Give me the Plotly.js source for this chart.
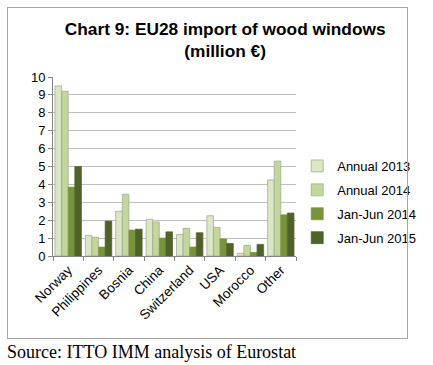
<!DOCTYPE html>
<html>
<head>
<meta charset="utf-8">
<script src="https://cdn.plot.ly/plotly-3.0.1.min.js"></script>
<style>
html,body{margin:0;padding:0;background:#fff;}
#wrap{position:relative;width:433px;height:365px;}
#chart{position:absolute;left:0;top:0;width:433px;height:365px;z-index:1;}
#frame{position:absolute;left:7px;top:7px;width:399px;height:330px;border:1.5px solid #a6a6a6;pointer-events:none;z-index:10;}
</style>
</head>
<body>
<div id="wrap"><div id="chart"></div><div id="frame"></div></div>
<script>
const categories = ["Norway","Philippines","Bosnia","China","Switzerland","USA","Morocco","Other"];
const annual2013 = [9.5, 1.15, 2.5, 2.05, 1.2, 2.25, 0.15, 4.25];
const annual2014 = [9.2, 1.05, 3.45, 1.9, 1.55, 1.6, 0.6, 5.3];
const janJun2014 = [3.85, 0.5, 1.45, 1.0, 0.5, 0.95, 0.2, 2.3];
const janJun2015 = [5.0, 1.95, 1.5, 1.35, 1.3, 0.7, 0.65, 2.4];
const seriesNames = ["Annual 2013","Annual 2014","Jan-Jun 2014","Jan-Jun 2015"];
const seriesColors = ["#dbe6c4","#c3d69b","#77933c","#4f6228"];
const seriesValues = [annual2013, annual2014, janJun2014, janJun2015];

const traces = seriesValues.map((v,i)=>({
  type:'bar', x:categories, y:v, name:seriesNames[i],
  legendgroup:'g'+i,
  marker:{color:seriesColors[i], line:{color: i<2 ? '#9aa88a' : seriesColors[i], width:0.7}}
}));

const layout = {
  width:433, height:365,
  margin:{l:53, r:131, t:77, b:109},
  paper_bgcolor:'#fff', plot_bgcolor:'#fff',
  font:{family:'Liberation Sans, Arial, sans-serif', color:'#000'},
  title:{text:'<b>Chart 9: EU28 import of wood windows<br>(million €)</b>', x:0.52, xanchor:'center', y:1-35/365, yanchor:'middle',
    font:{size:17.3, family:'Liberation Sans, Arial, sans-serif', color:'#000'}},
  barmode:'group', bargap:0.13, bargroupgap:0,
  xaxis:{tickangle:-45, tickfont:{size:13.5}, ticks:'outside', tickson:'boundaries', ticklen:4, tickcolor:'#868686',
    showline:true, linecolor:'#868686', linewidth:1, showgrid:false},
  yaxis:{range:[0,10], dtick:1, tickfont:{size:13}, showline:true, linecolor:'#868686', linewidth:1,
    ticks:'outside', ticklen:4, tickcolor:'#868686', gridcolor:'#bfbfbf', gridwidth:1, zeroline:false},
  legend:{x:1.005, xanchor:'left', y:(256-202)/179, yanchor:'middle', font:{size:13}, tracegroupgap:4,
    bgcolor:'rgba(0,0,0,0)', itemwidth:30},
  showlegend:true,
  annotations:[{text:'Source: ITTO IMM analysis of Eurostat', xref:'paper', yref:'paper',
    x:-49/249, xanchor:'left', y:-(352-256)/179, yanchor:'middle', showarrow:false,
    font:{family:'Liberation Serif, Times New Roman, serif', size:18, color:'#000'}}]
};
Plotly.newPlot('chart', traces, layout, {displayModeBar:false, staticPlot:true});
</script>
</body>
</html>
